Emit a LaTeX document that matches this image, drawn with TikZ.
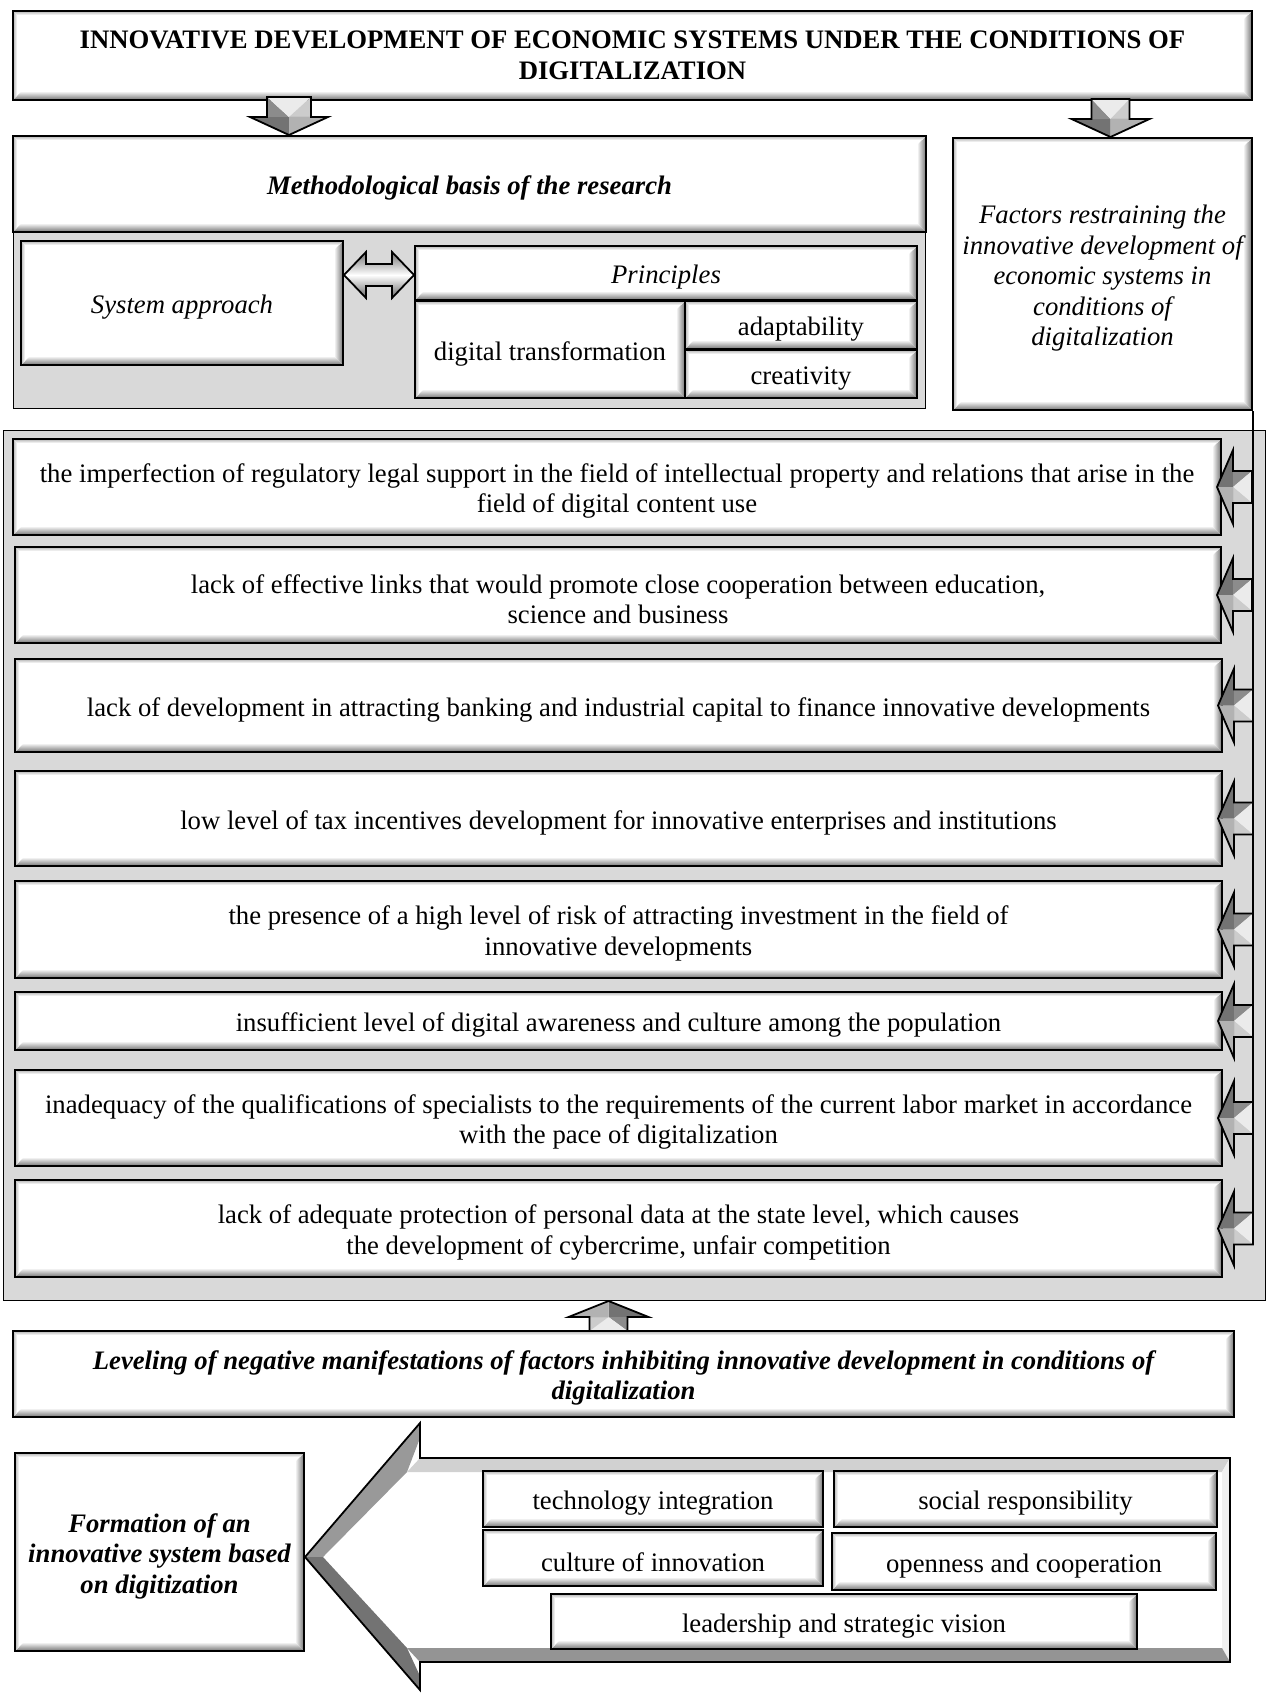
\documentclass[tikz,border=0pt]{standalone}
\usepackage{fontspec}
\setmainfont{Liberation Serif}
\usetikzlibrary{calc}
\definecolor{panel}{HTML}{D9D9D9}
\tikzset{
 bevel/.style={path picture={
   \path (path picture bounding box.north west) coordinate (pNW)
         (path picture bounding box.north east) coordinate (pNE)
         (path picture bounding box.south west) coordinate (pSW)
         (path picture bounding box.south east) coordinate (pSE);
   \shade[left color=white, right color=black!55]
     (pNE) -- ($(pNE)+(-9pt,-9pt)$) -- ($(pSE)+(-9pt,9pt)$) -- (pSE) -- cycle;
   \shade[top color=white, bottom color=black!55]
     (pSW) -- ($(pSW)+(9pt,9pt)$) -- ($(pSE)+(-9pt,9pt)$) -- (pSE) -- cycle;
   \shade[left color=black!30, right color=white]
     (pNW) -- ($(pNW)+(4pt,-4pt)$) -- ($(pSW)+(4pt,4pt)$) -- (pSW) -- cycle;
   \shade[top color=black!30, bottom color=white]
     (pNW) -- ($(pNW)+(4pt,-4pt)$) -- ($(pNE)+(-4pt,-4pt)$) -- (pNE) -- cycle;
 }},
 bx/.style={draw=black, line width=2pt, fill=white, inner sep=0pt, align=center,
   font=\fontsize{26.7}{30.5}\selectfont, bevel},
 bfb/.style={font=\fontsize{26.7}{30.5}\selectfont\bfseries},
 itb/.style={font=\fontsize{26.7}{30.5}\selectfont\itshape},
 bib/.style={font=\fontsize{26.7}{30.5}\selectfont\bfseries\itshape},
 panelbox/.style={draw=black, line width=0.9pt, fill=panel},
 arr/.style={draw=black, line width=1.8pt, line join=miter},
}
\def\bxstrut{\rule{0pt}{27pt}}
% #1 options, #2 name, #3 x1, #4 y1, #5 x2, #6 y2, #7 text
\newcommand\bx[7][]{%
  \pgfmathsetmacro\bxw{#5-#3}\pgfmathsetmacro\bxh{#6-#4}%
  \pgfmathsetmacro\bxcx{(#3+#5)/2}\pgfmathsetmacro\bxcy{(#4+#6)/2}%
  \node[bx,minimum width=\bxw pt,minimum height=\bxh pt,#1] (#2) at (\bxcx,\bxcy) {\bxstrut#7};}
% block arrow: #1 tip, #2 rotation, #3 head length, #4 head half width, #5 shaft half width, #6 shaft length
\newcommand\blockarrow[6]{%
 \begin{scope}[shift={#1},rotate=#2]
  \coordinate (aT) at (0,0);
  \coordinate (aHR) at (#4,#3);
  \coordinate (aSR) at (#5,#3);
  \coordinate (aBR) at (#5,#3+#6);
  \coordinate (aBL) at (-#5,#3+#6);
  \coordinate (aSL) at (-#5,#3);
  \coordinate (aHL) at (-#4,#3);
  \coordinate (aC) at (0,#3);
  \fill[black!55] (aT)--(aHR)--(aC)--cycle;
  \fill[black!40] (aHR)--(aSR)--(aC)--cycle;
  \fill[black!45] (aSR)--(aBR)--(aC)--cycle;
  \fill[black!8] (aBR)--(aBL)--(aC)--cycle;
  \fill[black!20] (aBL)--(aSL)--(aC)--cycle;
  \fill[black!35] (aSL)--(aHL)--(aC)--cycle;
  \fill[black!30] (aHL)--(aT)--(aC)--cycle;
  \draw[arr] (aT)--(aHR)--(aSR)--(aBR)--(aBL)--(aSL)--(aHL)--cycle;
 \end{scope}}
\begin{document}
\begin{tikzpicture}[x=1pt,y=-1pt]
\useasboundingbox (0,0) rectangle (1266,1693);
\fill[white] (0,0) rectangle (1266,1693);

% panels
\draw[panelbox] (13,232) rectangle (925,408);
\draw[panelbox] (3,430) rectangle (1265,1300);

% top
{\def\bxstrut{}%
\bx[bfb]{title}{13}{11}{1252}{100}{INNOVATIVE DEVELOPMENT OF ECONOMIC SYSTEMS UNDER THE CONDITIONS OF\\DIGITALIZATION}}
\bx[bib]{meth}{13}{136}{926}{232}{Methodological basis of the research}
\bx[itb]{factors}{953}{138}{1252}{410}{Factors restraining the\\innovative development of\\economic systems in\\conditions of\\digitalization}
\bx[itb]{sys}{21}{241}{343}{365}{System approach}
\bx[itb]{princ}{415}{246}{917}{300}{Principles}
\bx{dig}{415}{301}{685}{398}{digital transformation}
\bx{adapt}{685}{301}{917}{349}{adaptability}
\bx{creat}{685}{350}{917}{398}{creativity}

% double arrow between sys and princ
\path (sys.east |- 0,275) coordinate (dl) (princ.west |- 0,275) coordinate (dr);
\shade[top color=black!55, bottom color=black!60, middle color=white]
  (dl) -- ++(22,-23) -- ++(0,12) -- ($(dr)+(-22,-11)$) -- ++(0,-12) -- (dr)
  -- ++(-22,23) -- ++(0,-12) -- ($(dl)+(22,11)$) -- ++(0,12) -- cycle;
\draw[arr] (dl) -- ++(22,-23) -- ++(0,12) -- ($(dr)+(-22,-11)$) -- ++(0,-12) -- (dr)
  -- ++(-22,23) -- ++(0,-12) -- ($(dl)+(22,11)$) -- ++(0,12) -- cycle;

% down arrows
\blockarrow{($(meth.north west)+(277,0)$)}{180}{18}{39}{22}{20}
\blockarrow{($(factors.north)+(8,0)$)}{180}{18}{39}{19}{20}

% factor items
\bx{f1}{13}{439}{1221}{535}{the imperfection of regulatory legal support in the field of intellectual property and relations that arise in the\\field of digital content use}
\bx{f2}{15}{547}{1221}{643}{lack of effective links that would promote close cooperation between education,\\science and business}
\bx{f3}{15}{659}{1222}{752}{lack of development in attracting banking and industrial capital to finance innovative developments}
\bx{f4}{15}{771}{1222}{866}{low level of tax incentives development for innovative enterprises and institutions}
\bx{f5}{15}{881}{1222}{978}{the presence of a high level of risk of attracting investment in the field of\\innovative developments}
\bx{f6}{15}{992}{1222}{1050}{insufficient level of digital awareness and culture among the population}
\bx{f7}{15}{1070}{1222}{1166}{inadequacy of the qualifications of specialists to the requirements of the current labor market in accordance\\with the pace of digitalization}
\bx{f8}{15}{1180}{1222}{1277}{lack of adequate protection of personal data at the state level, which causes\\the development of cybercrime, unfair competition}

% vertical line and left arrows
\draw[line width=1.8pt] (factors.south east) -- (factors.south east |- f8.east);
\foreach \f in {f1,f2,f3,f4,f5,f6,f7,f8}{
  \blockarrow{($(\f.east)+(-5,0)$)}{90}{16}{37}{16}{19}
}

% leveling
\bx[bib]{level}{13}{1331}{1234}{1417}{Leveling of negative manifestations of factors inhibiting innovative development in conditions of\\digitalization}
\blockarrow{($(level.north)+(-15,-29)$)}{0}{16}{40}{19}{14}

% big left arrow
\fill[white] (305,1557) -- (420,1423) -- (420,1458) -- (1230,1458) -- (1230,1662) -- (420,1662) -- (420,1690) -- cycle;
\fill[black!40] (305,1557) -- (420,1423) -- (420,1438) -- (407,1472) -- (323,1557) -- cycle;
\fill[black!18] (420,1458) -- (1230,1458) -- (1222,1472) -- (407,1472) -- cycle;
\fill[black!6] (1230,1458) -- (1230,1662) -- (1222,1648) -- (1222,1472) -- cycle;
\fill[black!42] (420,1662) -- (1230,1662) -- (1222,1648) -- (407,1648) -- cycle;
\fill[black!55] (305,1557) -- (323,1557) -- (407,1648) -- (420,1676) -- (420,1690) -- cycle;
\draw[arr] (305,1557) -- (420,1423) -- (420,1458) -- (1230,1458) -- (1230,1662) -- (420,1662) -- (420,1690) -- cycle;

\bx[bib]{form}{15}{1453}{304}{1651}{Formation of an\\innovative system based\\on digitization}
\bx{t1}{483}{1471}{823}{1527}{technology integration}
\bx{t2}{834}{1471}{1217}{1527}{social responsibility}
\bx{t3}{483}{1530}{823}{1586}{culture of innovation}
\bx{t4}{832}{1533}{1216}{1590}{openness and cooperation}
\bx{t5}{551}{1594}{1137}{1649}{leadership and strategic vision}
\end{tikzpicture}
\end{document}
